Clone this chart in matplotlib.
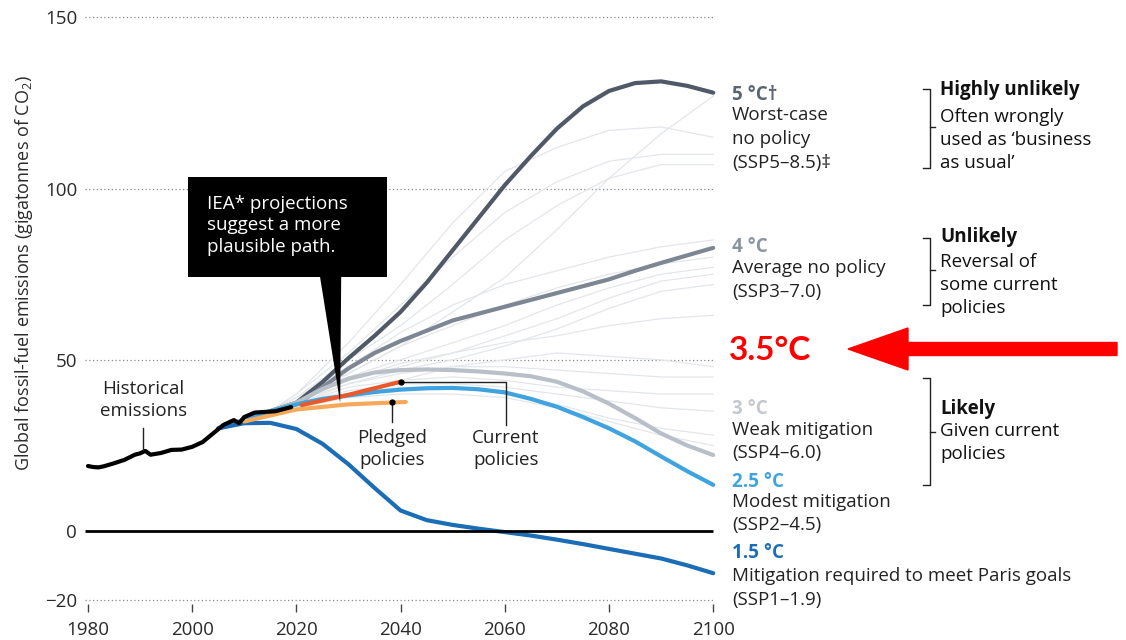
import matplotlib.pyplot as plt
from matplotlib.patches import FancyArrow, Polygon, Rectangle
from matplotlib.lines import Line2D

plt.rcParams['font.family'] = ['Open Sans', 'DejaVu Sans']
plt.rcParams['mathtext.default'] = 'regular'

# historical fossil-fuel CO2 emissions (Gt)
hist_years = [1980, 1981, 1982, 1983, 1985, 1987, 1989, 1990, 1991, 1992, 1994,
              1996, 1998, 2000, 2002, 2004, 2006, 2008, 2009, 2010, 2012, 2014, 2016, 2019]
hist_vals = [19.0, 18.7, 18.6, 18.9, 19.8, 20.8, 22.3, 22.7, 23.4, 22.3, 22.8,
             23.7, 23.8, 24.6, 26.0, 28.5, 31.0, 32.4, 31.5, 33.3, 34.6, 34.8, 35.0, 36.2]

# SSP scenario pathways
ssp_years = [2005, 2010, 2015, 2020, 2025, 2030, 2035, 2040, 2045, 2050,
             2055, 2060, 2065, 2070, 2075, 2080, 2085, 2090, 2095, 2100]
ssp585 = [30.0, 32.5, 35.0, 37.5, 43.5, 50.5, 57.0, 64.0, 72.5, 82.0,
          91.5, 101.0, 109.5, 117.5, 124.0, 128.5, 130.8, 131.3, 130.0, 128.0]
ssp370 = [30.0, 32.5, 35.0, 37.0, 42.0, 47.5, 52.0, 55.5, 58.5, 61.5,
          63.5, 65.5, 67.5, 69.5, 71.5, 73.5, 76.0, 78.3, 80.5, 82.7]
ssp460 = [30.0, 32.5, 35.0, 37.5, 41.5, 44.5, 46.3, 47.0, 47.2, 47.0,
          46.6, 46.0, 45.2, 43.6, 40.8, 37.2, 33.0, 28.5, 25.0, 22.2]
ssp245 = [30.0, 32.5, 35.0, 37.0, 38.6, 39.6, 40.6, 41.3, 41.7, 41.8,
          41.4, 40.5, 38.6, 36.3, 33.3, 30.0, 26.2, 21.8, 17.5, 13.5]
ssp119 = [30.0, 31.5, 31.6, 29.8, 25.5, 19.5, 12.6, 6.0, 3.2, 1.8,
          0.7, -0.3, -1.3, -2.5, -3.8, -5.2, -6.6, -8.0, -10.0, -12.3]

# IEA projections
current_years = [2021, 2030, 2040]
current_vals = [36.8, 39.8, 43.6]
pledged_years = [2010, 2020, 2030, 2041]
pledged_vals = [32.0, 35.5, 37.0, 37.7]

# faint ensemble of other model runs
ens_years = [2015, 2020, 2030, 2040, 2050, 2060, 2070, 2080, 2090, 2100]
ensemble = [
    [35, 40, 55, 72, 90, 105, 112, 117, 118, 115],
    [35, 40, 52, 66, 80, 93, 102, 108, 110, 110],
    [35, 39, 50, 60, 72, 85, 95, 103, 107, 107],
    [35, 38, 46, 54, 64, 74, 88, 103, 116, 127],
    [35, 39, 48, 58, 66, 72, 76, 80, 83, 85],
    [35, 38, 46, 54, 60, 66, 71, 75, 78, 80],
    [35, 38, 45, 50, 55, 60, 66, 71, 75, 77],
    [35, 38, 44, 48, 52, 57, 62, 68, 73, 75],
    [35, 38, 43, 47, 50, 54, 59, 65, 70, 72],
    [35, 38, 44, 49, 52, 55, 57, 60, 62, 63],
    [35, 36, 40, 44, 48, 50, 52, 51, 50, 48],
    [35, 37, 43, 46, 48, 48, 47, 46, 45, 45],
    [35, 37, 42, 44, 45, 44, 42, 41, 40, 40],
    [35, 37, 41, 43, 43, 42, 40, 38, 36, 35],
    [35, 36, 40, 42, 42, 40, 37, 33, 30, 28],
    [35, 36, 39, 40, 40, 39, 36, 32, 28, 25],
]

yticks = [-20, 0, 50, 100, 150]
xticks = [1980, 2000, 2020, 2040, 2060, 2080, 2100]

W, H = 1126, 640


def fx(px):
    return px / W


def fy(py):
    return 1 - py / H


fig = plt.figure(figsize=(W / 100, H / 100), dpi=100)
ax = fig.add_axes([fx(80), fy(615), 640 / W, 610 / H])
ax.set_xlim(1980 - 8 / 5.21, 1980 + 632 / 5.21)
ax.set_ylim(-24.5, 153.6)
for s in ax.spines.values():
    s.set_visible(False)

# grid
for v in yticks:
    if v == 0:
        ax.hlines(0, 1979.4, 2100, color='black', lw=2.0, zorder=6)
    else:
        ax.hlines(v, 1979.4, 2100.3, color='#8a8a8a', lw=0.9,
                  linestyles=(0, (1, 2)), zorder=0)
ax.vlines(xticks, -21.2, -23.6, color='#444444', lw=1.0)

ax.set_yticks(yticks)
ax.set_yticklabels(['\u221220', '0', '50', '100', '150'])
ax.set_xticks(xticks)
ax.tick_params(length=0, labelsize=13.5, colors='#2a2a2a')
ax.tick_params(axis='y', pad=2)
ax.tick_params(axis='x', pad=4)

for run in ensemble:
    ax.plot(ens_years, run, color='#e3e6ea', lw=0.9, zorder=1)

ax.plot(ssp_years[2:], ssp585[2:], color='#4f5967', lw=3.0, zorder=3,
        solid_capstyle='round', solid_joinstyle='round')
ax.plot(ssp_years[2:], ssp370[2:], color='#7d8794', lw=3.0, zorder=3,
        solid_capstyle='round', solid_joinstyle='round')
ax.plot(ssp_years[2:], ssp460[2:], color='#b9bfc8', lw=3.0, zorder=3,
        solid_capstyle='round', solid_joinstyle='round')
ax.plot(ssp_years, ssp245, color='#3ea3de', lw=3.0, zorder=3,
        solid_capstyle='round', solid_joinstyle='round')
ax.plot(ssp_years, ssp119, color='#1b6db6', lw=3.0, zorder=3,
        solid_capstyle='round', solid_joinstyle='round')

ax.plot(pledged_years, pledged_vals, color='#f6a95b', lw=3.0, zorder=4,
        solid_capstyle='round')
ax.plot(current_years, current_vals, color='#e8592b', lw=3.0, zorder=4,
        solid_capstyle='round')
ax.plot(hist_years, hist_vals, color='black', lw=3.0, zorder=5,
        solid_capstyle='round', solid_joinstyle='round')

# leader lines
lc = '#222222'
ax.plot([1990.6, 1990.6], [30.0, 23.6], color=lc, lw=1.0, zorder=6)
ax.text(1990.6, 38.2, 'Historical\nemissions', ha='center', va='center',
        fontsize=13.5, linespacing=1.25, color='#222222')

ax.plot([2038.4, 2038.4], [37.7, 31.8], color=lc, lw=1.0, zorder=6)
ax.plot([2038.4], [37.7], 'o', color='black', ms=3.5, zorder=7)
ax.text(2038.4, 24.0, 'Pledged\npolicies', ha='center', va='center',
        fontsize=13.5, linespacing=1.25, color='#222222')

ax.plot([2040, 2060.2, 2060.2], [43.6, 43.6, 31.0], color=lc, lw=1.0, zorder=6)
ax.plot([2040], [43.6], 'o', color='black', ms=3.5, zorder=7)
ax.text(2060.2, 24.0, 'Current\npolicies', ha='center', va='center',
        fontsize=13.5, linespacing=1.25, color='#222222')

# IEA call-out box
ax.add_patch(Rectangle((1999.2, 74.3), 38.2, 29.2, facecolor='black',
                       edgecolor='none', zorder=8, clip_on=False))
ax.add_patch(Polygon([(2024.5, 74.6), (2028.6, 74.6), (2028.4, 37.4)],
                     closed=True, facecolor='black', edgecolor='none', zorder=8))
ax.text(2002.8, 89.3, 'IEA* projections\nsuggest a more\nplausible path.',
        ha='left', va='center', color='white', fontsize=13.5,
        linespacing=1.25, zorder=9)

fig.text(fx(24), fy(273), 'Global fossil-fuel emissions (gigatonnes of CO$_2$)',
         rotation=90, ha='center', va='center', fontsize=13, color='#2a2a2a')

# scenario labels on the right
fs = 13.5
tx = fx(732)
labels = [
    (95, '5 \u00b0C\u2020', '#5b6472', True),
    (115, 'Worst-case', '#222222', False),
    (139, 'no policy', '#222222', False),
    (163, '(SSP5\u20138.5)\u2021', '#222222', False),
    (247, '4 \u00b0C', '#8b94a1', True),
    (268, 'Average no policy', '#222222', False),
    (292, '(SSP3\u20137.0)', '#222222', False),
    (409, '3 \u00b0C', '#c3c8cf', True),
    (430, 'Weak mitigation', '#222222', False),
    (453, '(SSP4\u20136.0)', '#222222', False),
    (482, '2.5 \u00b0C', '#3ea3de', True),
    (502, 'Modest mitigation', '#222222', False),
    (525, '(SSP2\u20134.5)', '#222222', False),
    (553, '1.5 \u00b0C', '#1b6db6', True),
    (576, 'Mitigation required to meet Paris goals', '#222222', False),
    (600, '(SSP1\u20131.9)', '#222222', False),
]
for py, s, c, bold in labels:
    fig.text(tx, fy(py), s, ha='left', va='center', fontsize=fs, color=c,
             fontweight='bold' if bold else 'normal')

likelihood = [
    (90, 'Highly unlikely', True),
    (117, 'Often wrongly', False),
    (140, 'used as \u2018business', False),
    (163, 'as usual\u2019', False),
    (237, 'Unlikely', True),
    (262, 'Reversal of', False),
    (285, 'some current', False),
    (308, 'policies', False),
    (409, 'Likely', True),
    (431, 'Given current', False),
    (454, 'policies', False),
]
for py, s, bold in likelihood:
    fig.text(fx(940), fy(py), s, ha='left', va='center', fontsize=fs,
             color='#111111', fontweight='bold' if bold else 'normal')

# brackets
for top, mid, bot in [(89, 127, 168), (238, 270, 305), (378, 432, 485)]:
    xs = [fx(923), fx(930), fx(930), fx(923)]
    ys = [fy(top), fy(top), fy(bot), fy(bot)]
    fig.add_artist(Line2D(xs, ys, color='#222222', lw=1.0))
    fig.add_artist(Line2D([fx(930), fx(935)], [fy(mid), fy(mid)],
                          color='#222222', lw=1.0))

# red marker for 3.5 C
fig.text(fx(729), fy(350), '3.5\u00b0C', ha='left', va='center',
         fontsize=24, fontweight='bold', color='#ff0000',
         family=['Lato', 'DejaVu Sans'])
fig.add_artist(FancyArrow(fx(1117), fy(349), fx(848) - fx(1117), 0,
                          width=13 / H, head_width=42 / H, head_length=60 / W,
                          length_includes_head=True, color='#ff0000',
                          transform=fig.transFigure))

fig.savefig('out.png', dpi=100)
